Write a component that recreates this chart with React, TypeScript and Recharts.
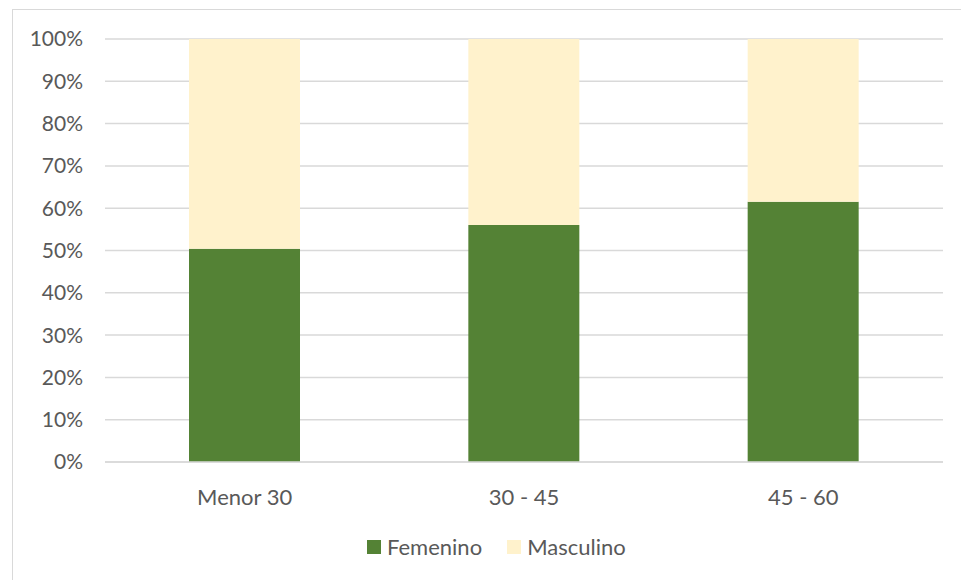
import React from 'react';
import { BarChart, Bar, XAxis, YAxis, CartesianGrid } from 'recharts';

const categories = ['Menor 30', '30 - 45', '45 - 60'];
const femenino = [50.4, 56.0, 61.5];
const masculino = [49.6, 44.0, 38.5];
const yTicks = [0, 10, 20, 30, 40, 50, 60, 70, 80, 90, 100];

const data = categories.map((name, i) => ({ name, Femenino: femenino[i], Masculino: masculino[i] }));

const GREEN = '#548235';
const CREAM = '#FFF2CC';
const TEXT = '#595959';
const FONT = 'Lato, "Open Sans", sans-serif';

const LegendBox: React.FC = () => (
  <div style={{ display: 'flex', alignItems: 'center', fontFamily: FONT, fontSize: 22, color: TEXT, lineHeight: '24px' }}>
    <span style={{ width: 14, height: 14, background: GREEN, display: 'inline-block', marginRight: 6 }} />
    <span style={{ marginRight: 25 }}>Femenino</span>
    <span style={{ width: 14, height: 14, background: CREAM, display: 'inline-block', marginRight: 6 }} />
    <span>Masculino</span>
  </div>
);

export default function App() {
  return (
    <div style={{ position: 'absolute', left: 0, top: 0, width: 961, height: 580, background: '#fff', overflow: 'hidden' }}>
      <div
        style={{
          position: 'absolute',
          left: 12,
          top: 9,
          width: 961,
          height: 600,
          borderLeft: '1px solid #d9d9d9',
          borderTop: '1px solid #d9d9d9',
        }}
      />
      <div style={{ position: 'absolute', left: 0, top: 0, width: 961, height: 580 }}>
        <BarChart width={961} height={580} data={data} margin={{ top: 39, right: 18, left: 0, bottom: 88 }}>
          <CartesianGrid vertical={false} stroke="#d9d9d9" strokeWidth={1.5} />
          <XAxis
            dataKey="name"
            height={30}
            axisLine={{ stroke: '#d9d9d9', strokeWidth: 1.5 }}
            tickLine={false}
            tickSize={0}
            tickMargin={27}
            tick={{ fill: TEXT, fontSize: 22, fontFamily: FONT }}
          />
          <YAxis
            width={105}
            domain={[0, 100]}
            ticks={yTicks}
            tickFormatter={(v: number) => `${v}%`}
            axisLine={false}
            tickLine={false}
            tickSize={0}
            tickMargin={22}
            tick={{ fill: TEXT, fontSize: 21, fontFamily: FONT }}
          />
          <Bar dataKey="Femenino" stackId="a" fill={GREEN} barSize={111} isAnimationActive={false} />
          <Bar dataKey="Masculino" stackId="a" fill={CREAM} barSize={111} isAnimationActive={false} />
        </BarChart>
      </div>
      <div style={{ position: 'absolute', left: 367, top: 535 }}>
        <LegendBox />
      </div>
    </div>
  );
}
